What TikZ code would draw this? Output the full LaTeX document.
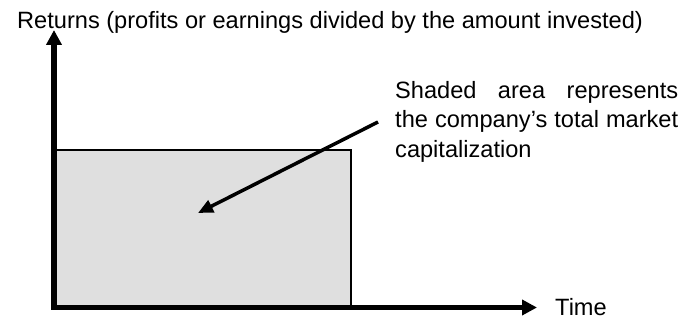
\documentclass[tikz,border=0pt]{standalone}
\usepackage{fontspec}
\setmainfont{Liberation Sans}
\usetikzlibrary{arrows.meta}
\definecolor{shade}{HTML}{DFDFDF}
\tikzset{
  axis/.style={line width=5.5pt,-{Triangle[length=15pt,width=15pt]}},
  pointer/.style={line width=3.5pt,-{Triangle[length=15pt,width=13pt]}},
  lbl/.style={inner sep=0pt,anchor=base west,font=\fontsize{23.6}{29.5}\selectfont},
  area/.style={draw=black,line width=1.5pt,fill=shade}
}
\begin{document}
\begin{tikzpicture}[x=1pt,y=-1pt]
\useasboundingbox (0,0) rectangle (696,321);
\coordinate (rtl) at (52,150);
\coordinate (rbr) at (351,307);
\draw[area] (rtl) rectangle (rbr);
\coordinate (origin) at (51,307.5);
\coordinate (ybot) at (54,305);
\coordinate (ytop) at (54,30);
\coordinate (xend) at (537,307.5);
\draw[axis] (ybot) -- (ytop);
\draw[axis] (origin) -- (xend);
\node[lbl] (ylabel) at (17,29) {Returns (profits or earnings divided by the amount invested)};
\node[lbl] (xlabel) at (555,315) {Time};
\node[lbl,text width=283pt,align=justify,anchor=north west] (note) at (395,81)
  {Shaded area represents the company’s total market capitalization};
\coordinate (pstart) at (378,122);
\coordinate (ptip) at (198,213);
\draw[pointer] (pstart) -- (ptip);
\end{tikzpicture}
\end{document}
